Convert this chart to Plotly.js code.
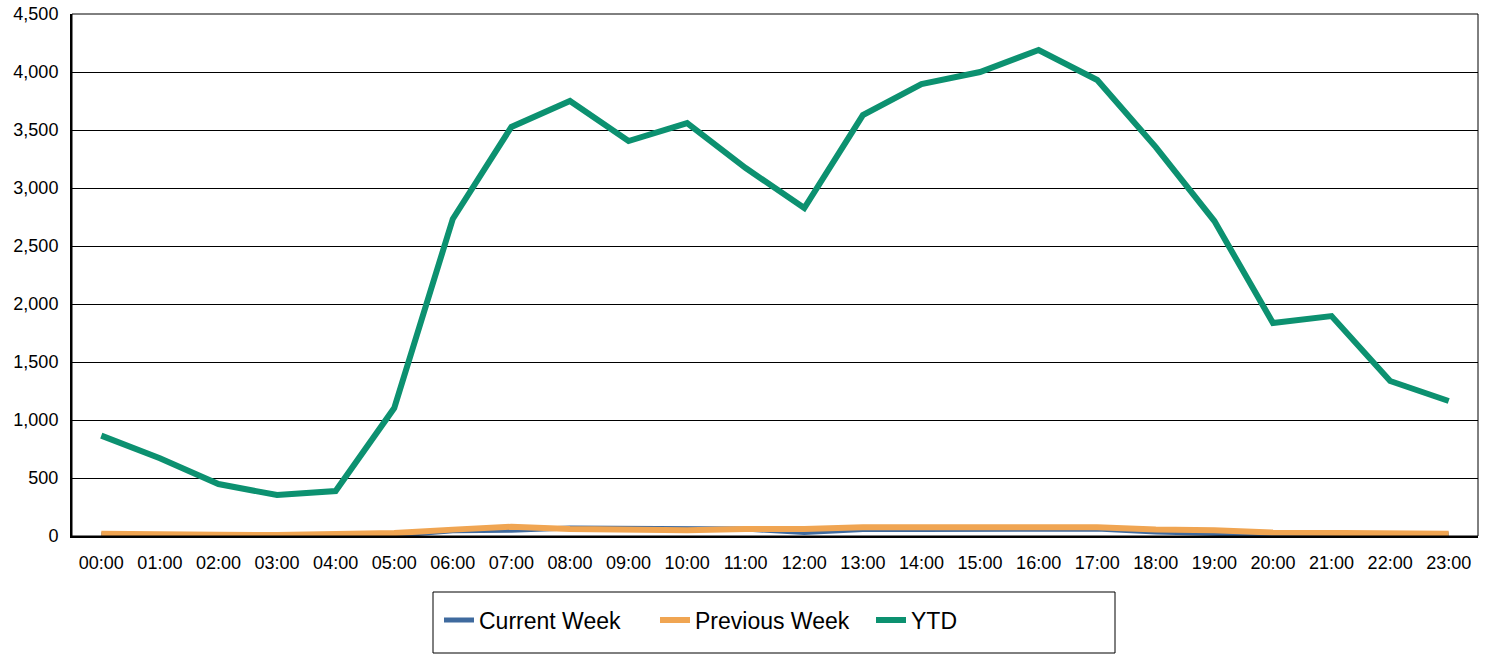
<!DOCTYPE html>
<html>
<head>
<meta charset="utf-8">
<script src="https://cdn.plot.ly/plotly-3.0.1.min.js"></script>
<style>html,body{margin:0;padding:0;background:#fff;}#chart{width:1494px;height:656px;}</style>
</head>
<body>
<div id="chart"></div>
<script>
const hours = ["00:00","01:00","02:00","03:00","04:00","05:00","06:00","07:00","08:00","09:00","10:00","11:00","12:00","13:00","14:00","15:00","16:00","17:00","18:00","19:00","20:00","21:00","22:00","23:00"];
const currentWeek = [10,5,10,5,5,5,45,50,70,65,65,60,30,55,55,55,60,60,35,20,10,10,10,10];
const previousWeek = [20,10,10,8,15,25,55,80,60,55,50,60,60,75,75,75,75,75,55,50,30,30,25,20];
const ytd = [865,670,448,353,388,1103,2733,3526,3750,3405,3560,3172,2827,3629,3896,4000,4190,3931,3353,2715,1836,1896,1336,1164];
const yTicks = [0,500,1000,1500,2000,2500,3000,3500,4000,4500];

const traces = [
  {x: hours, y: currentWeek, name: "Current Week", type: "scatter", mode: "lines", line: {color: "#3F6A9E", width: 5}},
  {x: hours, y: previousWeek, name: "Previous Week", type: "scatter", mode: "lines", line: {color: "#F0A552", width: 6}},
  {x: hours, y: ytd, name: "YTD", type: "scatter", mode: "lines", line: {color: "#0C9170", width: 6}}
];

const layout = {
  width: 1494, height: 656,
  margin: {l: 72, r: 16, t: 14, b: 120},
  paper_bgcolor: "#fff", plot_bgcolor: "#fff",
  font: {family: "Liberation Sans, Arial, sans-serif", color: "#000", size: 18},
  showlegend: true,
  legend: {orientation: "h", x: (439-72)/1406, xanchor: "left", y: -0.12, yanchor: "top",
           entrywidth: 171, entrywidthmode: "pixels",
           font: {size: 23, family: "Liberation Sans, Arial, sans-serif"}, borderwidth: 0, bgcolor: "rgba(0,0,0,0)"},
  xaxis: {type: "category", range: [-0.5, 23.5], showgrid: false, zeroline: false,
          showline: true, linecolor: "#000", linewidth: 2, mirror: false, ticks: "", ticklen: 0,
          ticklabelstandoff: 9, tickfont: {size: 18}, fixedrange: true},
  yaxis: {range: [0, 4500], tickvals: yTicks, tickformat: ",d", showgrid: true, gridcolor: "#000", gridwidth: 1,
          zeroline: false, showline: true, linecolor: "#000", linewidth: 2, ticks: "", ticklabelstandoff: 8,
          tickfont: {size: 18}, fixedrange: true},
  shapes: [
    {type: "rect", xref: "paper", yref: "paper", x0: 0, x1: 1, y0: 0, y1: 1, line: {color: "#000", width: 1}, fillcolor: "rgba(0,0,0,0)", layer: "above"},
    {type: "rect", xref: "paper", yref: "paper", x0: (433-72)/1406, x1: (1115-72)/1406, y0: -(592-536)/522, y1: -(653-536)/522, line: {color: "#000", width: 1}, fillcolor: "rgba(0,0,0,0)"}
  ]
};

Plotly.newPlot("chart", traces, layout, {displayModeBar: false, staticPlot: true});
</script>
</body>
</html>
